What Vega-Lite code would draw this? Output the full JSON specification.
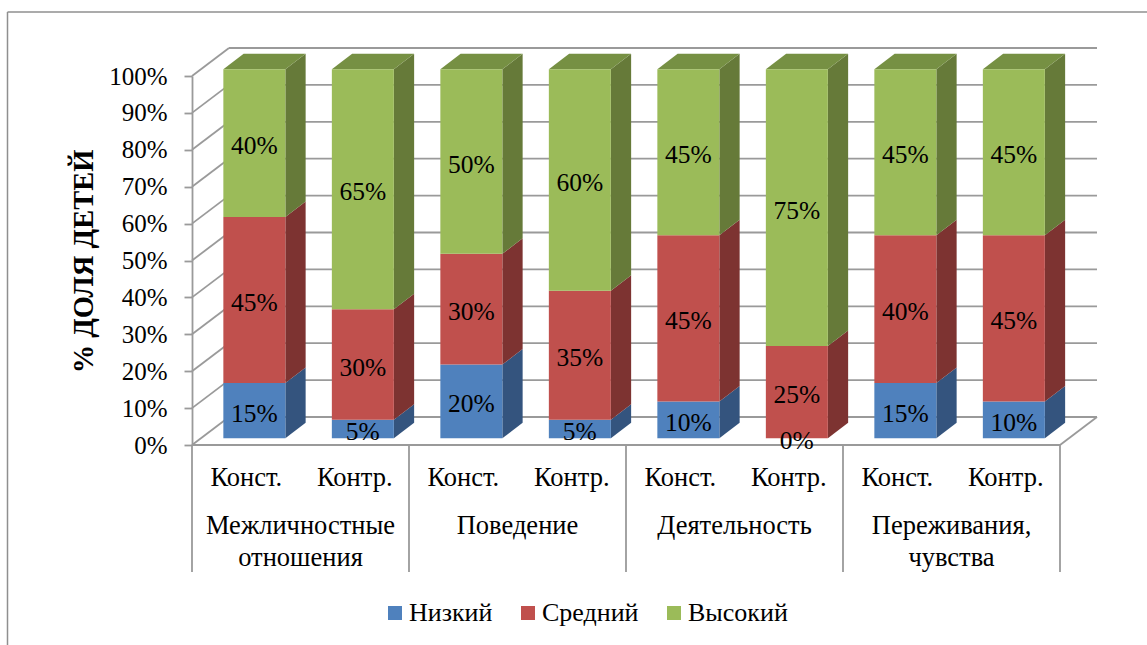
{
"$schema":"https://vega.github.io/schema/vega-lite/v6.json",
"width":868,"height":369,
"autosize":{"type":"none"},
"padding":{"left":192,"top":76,"right":87,"bottom":200},
"background":"white",
"config":{"view":{"stroke":null},"font":"Liberation Serif","scale":{"continuousPadding":0},"axisY":{"labelOverlap":false,"tickCount":11,"labelBound":false,"labelFlush":false},"text":{"font":"Liberation Serif","color":"black"}},
"datasets":{
"rows":[
{"bar":1,"sub":"Конст.","level":"Низкий","value":15},{"bar":1,"sub":"Конст.","level":"Средний","value":45},{"bar":1,"sub":"Конст.","level":"Высокий","value":40},
{"bar":2,"sub":"Контр.","level":"Низкий","value":5},{"bar":2,"sub":"Контр.","level":"Средний","value":30},{"bar":2,"sub":"Контр.","level":"Высокий","value":65},
{"bar":3,"sub":"Конст.","level":"Низкий","value":20},{"bar":3,"sub":"Конст.","level":"Средний","value":30},{"bar":3,"sub":"Конст.","level":"Высокий","value":50},
{"bar":4,"sub":"Контр.","level":"Низкий","value":5},{"bar":4,"sub":"Контр.","level":"Средний","value":35},{"bar":4,"sub":"Контр.","level":"Высокий","value":60},
{"bar":5,"sub":"Конст.","level":"Низкий","value":10},{"bar":5,"sub":"Конст.","level":"Средний","value":45},{"bar":5,"sub":"Конст.","level":"Высокий","value":45},
{"bar":6,"sub":"Контр.","level":"Низкий","value":0},{"bar":6,"sub":"Контр.","level":"Средний","value":25},{"bar":6,"sub":"Контр.","level":"Высокий","value":75},
{"bar":7,"sub":"Конст.","level":"Низкий","value":15},{"bar":7,"sub":"Конст.","level":"Средний","value":40},{"bar":7,"sub":"Конст.","level":"Высокий","value":45},
{"bar":8,"sub":"Контр.","level":"Низкий","value":10},{"bar":8,"sub":"Контр.","level":"Средний","value":45},{"bar":8,"sub":"Контр.","level":"Высокий","value":45}
],
"ticks":[{"tick":0},{"tick":10},{"tick":20},{"tick":30},{"tick":40},{"tick":50},{"tick":60},{"tick":70},{"tick":80},{"tick":90},{"tick":100}],
"groups":[{"group":"Межличностные\nотношения","mid":1.5},{"group":"Поведение","mid":3.5},{"group":"Деятельность","mid":5.5},{"group":"Переживания,\nчувства","mid":7.5}],
"edges":[{"edge":0.5},{"edge":2.5},{"edge":4.5},{"edge":6.5},{"edge":8.5}]
},
"layer":[
{"data":{"name":"ticks"},
 "mark":{"type":"rule","color":"#9a9a9a","strokeWidth":1.8,"xOffset":37,"x2Offset":37,"yOffset":-28},
 "encoding":{
  "x":{"datum":0.5,"type":"quantitative","scale":{"domain":[0.5,8.5],"nice":false,"zero":false,"padding":0},"axis":null},
  "x2":{"datum":8.5},
  "y":{"field":"tick","type":"quantitative","scale":{"domain":[0,100],"nice":false},
   "axis":{"values":[0,10,20,30,40,50,60,70,80,90,100],"labelOverlap":false,"labelExpr":"datum.value + '%'","grid":false,"domainColor":"#9a9a9a","domainWidth":1.8,"tickColor":"#9a9a9a","tickWidth":1.8,"tickSize":8,"labelPadding":17,"labelFont":"Liberation Serif","labelFontSize":25,"labelColor":"black",
    "title":"% ДОЛЯ ДЕТЕЙ","titleFont":"Liberation Serif","titleFontSize":28.5,"titleFontWeight":"bold","titleColor":"black","titleAngle":-90,"titleX":-100,"titleY":185,"titleAlign":"center","titleBaseline":"alphabetic"}}
 }},
{"data":{"name":"ticks"},
 "mark":{"type":"rule","color":"#9a9a9a","strokeWidth":1.8,"x2Offset":37,"y2Offset":-28},
 "encoding":{
  "x":{"datum":0.5,"type":"quantitative","axis":null},
  "x2":{"datum":0.5},
  "y":{"field":"tick","type":"quantitative"},
  "y2":{"field":"tick"}
 }},
{"data":{"values":[{"tick":0}]},
 "mark":{"type":"rule","color":"#9a9a9a","strokeWidth":1.8,"x2Offset":37,"y2Offset":-28},
 "encoding":{
  "x":{"datum":8.5,"type":"quantitative","axis":null},
  "x2":{"datum":8.5},
  "y":{"field":"tick","type":"quantitative"},
  "y2":{"field":"tick"}
 }},
{"data":{"values":[{"tick":0}]},
 "mark":{"type":"rule","color":"#9a9a9a","strokeWidth":2},
 "encoding":{
  "x":{"datum":0.5,"type":"quantitative","axis":null},
  "x2":{"datum":8.5},
  "y":{"field":"tick","type":"quantitative"}
 }},
{"data":{"name":"edges"},
 "mark":{"type":"rule","color":"#9a9a9a","strokeWidth":1.8,"y2Offset":127},
 "encoding":{
  "x":{"field":"edge","type":"quantitative","axis":null},
  "y":{"datum":0,"type":"quantitative"},
  "y2":{"datum":0}
 }},
{"data":{"values":[{"tick":100}]},
 "mark":{"type":"rule","color":"#8f8f8f","strokeWidth":1.5,"xOffset":-184.5,"x2Offset":87,"yOffset":-64},
 "encoding":{
  "x":{"datum":0.5,"type":"quantitative","axis":null},
  "x2":{"datum":8.5},
  "y":{"field":"tick","type":"quantitative"}
 }},
{"data":{"values":[{"tick":100}]},
 "mark":{"type":"rule","color":"#8f8f8f","strokeWidth":1.5,"xOffset":-184.5,"yOffset":-64,"y2Offset":200},
 "encoding":{
  "x":{"datum":0.5,"type":"quantitative","axis":null},
  "y":{"field":"tick","type":"quantitative"},
  "y2":{"datum":0}
 }},
{"data":{"name":"rows"},
 "transform":[
  {"stack":"value","groupby":["bar"],"as":["y0","y1"]},
  {"calculate":"[0,1]","as":"edge"},
  {"flatten":["edge"]},
  {"calculate":"datum.bar+datum.edge*0.187","as":"xp"},
  {"calculate":"datum.y0+datum.edge*4.2","as":"yb"},
  {"calculate":"datum.y1+datum.edge*4.2","as":"yt"}
 ],
 "mark":{"type":"area","orient":"vertical","xOffset":39.1,"yOffset":-6.7,"y2Offset":-6.7,"line":false},
 "encoding":{
  "x":{"field":"xp","type":"quantitative","axis":null},
  "y":{"field":"yb","type":"quantitative","stack":null},
  "y2":{"field":"yt"},
  "detail":[{"field":"bar"},{"field":"level"}],
  "fill":{"field":"level","type":"nominal","scale":{"domain":["Высокий","Средний","Низкий"],"range":["#667A39","#7D3331","#34547E"]},"legend":null}
 }},
{"data":{"name":"rows"},
 "transform":[
  {"filter":"datum.level === 'Высокий'"},
  {"calculate":"[0,1]","as":"edge"},
  {"flatten":["edge"]},
  {"calculate":"datum.bar+datum.edge*0.187","as":"xp"},
  {"calculate":"100+datum.edge*4.2","as":"yp"}
 ],
 "mark":{"type":"area","orient":"horizontal","color":"#769043","xOffset":-22.9,"x2Offset":39.1,"yOffset":-6.7,"line":false},
 "encoding":{
  "y":{"field":"yp","type":"quantitative","stack":null},
  "x":{"field":"xp","type":"quantitative","axis":null},
  "x2":{"field":"xp"},
  "detail":{"field":"bar"}
 }},
{"data":{"name":"rows"},
 "transform":[{"stack":"value","groupby":["bar"],"as":["y0","y1"]}],
 "mark":{"type":"bar","orient":"vertical","size":62,"xOffset":8.1,"yOffset":-6.7,"y2Offset":-6.7},
 "encoding":{
  "x":{"field":"bar","type":"quantitative","axis":null},
  "y":{"field":"y0","type":"quantitative"},
  "y2":{"field":"y1"},
  "color":{"field":"level","type":"nominal","scale":{"domain":["Низкий","Средний","Высокий"],"range":["#4F81BD","#C0504D","#9BBB59"]},
   "legend":{"title":null,"orient":"none","legendX":190,"legendY":524,"direction":"horizontal","columns":3,"symbolType":"square","symbolSize":196,"symbolStrokeWidth":0,"labelFont":"Liberation Serif","labelFontSize":26,"labelColor":"black","labelOffset":1,"columnPadding":22,"labelLimit":200}}
 }},
{"data":{"name":"rows"},
 "transform":[
  {"stack":"value","groupby":["bar"],"as":["y0","y1"]},
  {"calculate":"(datum.y0+datum.y1)/2","as":"mid"},
  {"calculate":"datum.value+'%'","as":"label"}
 ],
 "mark":{"type":"text","fontSize":25.5,"font":"Liberation Serif","color":"black","xOffset":8.1,"yOffset":-6.7,"dy":3},
 "encoding":{
  "x":{"field":"bar","type":"quantitative","axis":null},
  "y":{"field":"mid","type":"quantitative"},
  "text":{"field":"label"}
 }},
{"data":{"name":"rows"},
 "transform":[{"filter":"datum.level === 'Низкий'"}],
 "mark":{"type":"text","fontSize":26.5,"font":"Liberation Serif","color":"black","baseline":"alphabetic","yOffset":40.5},
 "encoding":{
  "x":{"field":"bar","type":"quantitative","axis":null},
  "y":{"datum":0,"type":"quantitative"},
  "text":{"field":"sub"}
 }},
{"data":{"name":"groups"},
 "mark":{"type":"text","fontSize":26.5,"font":"Liberation Serif","color":"black","baseline":"alphabetic","yOffset":89,"lineBreak":"\n","lineHeight":32},
 "encoding":{
  "x":{"field":"mid","type":"quantitative","axis":null},
  "y":{"datum":0,"type":"quantitative"},
  "text":{"field":"group"}
 }}
]
}
